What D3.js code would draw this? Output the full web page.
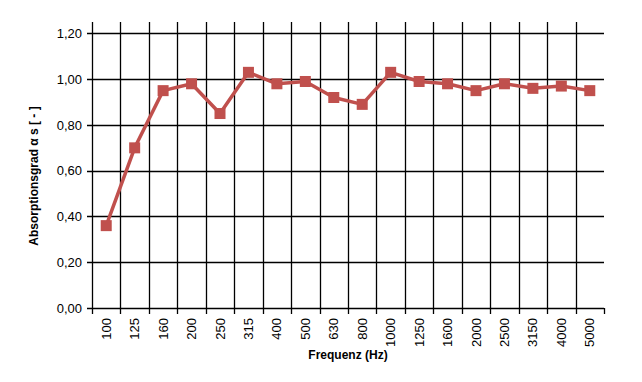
<!DOCTYPE html>
<html>
<head>
<meta charset="utf-8">
<script src="https://cdn.jsdelivr.net/npm/d3@7"></script>
<style>
  body { margin: 0; background: #fff; }
  text { font-family: "Liberation Sans", Arial, sans-serif; fill: #000; }
</style>
</head>
<body>
<svg id="chart" width="642" height="382"></svg>
<script>
let frequencies = ["100", "125", "160", "200", "250", "315", "400", "500", "630", "800",
  "1000", "1250", "1600", "2000", "2500", "3150", "4000", "5000"];
let absorption = [0.36, 0.70, 0.95, 0.98, 0.85, 1.03, 0.98, 0.99, 0.92, 0.89,
  1.03, 0.99, 0.98, 0.95, 0.98, 0.96, 0.97, 0.95];
let yTicks = [0, 0.2, 0.4, 0.6, 0.8, 1.0, 1.2];

let plotLeft = 92, plotRight = 604, plotTop = 22, plotBottom = 308;

let svg = d3.select("#chart");

let x = d3.scaleBand().domain(frequencies).range([plotLeft, plotRight]);
let y = d3.scaleLinear().domain([0, 1.25]).range([plotBottom, plotTop]);

let fmt = (d) => d3.format(".2f")(d).replace(".", ",");

// horizontal grid + y ticks
svg.append("g")
  .selectAll("line")
  .data(yTicks)
  .enter()
  .append("line")
  .attr("x1", plotLeft - 5)
  .attr("x2", plotRight)
  .attr("y1", (d) => Math.round(y(d)) + 0.5)
  .attr("y2", (d) => Math.round(y(d)) + 0.5)
  .attr("stroke", "#000")
  .attr("stroke-width", 1.3);

// vertical grid lines at category boundaries, extending below as ticks
svg.append("g")
  .selectAll("line")
  .data(frequencies)
  .enter()
  .append("line")
  .attr("x1", (d) => Math.round(x(d)) + 0.5)
  .attr("x2", (d) => Math.round(x(d)) + 0.5)
  .attr("y1", plotTop)
  .attr("y2", plotBottom + 6)
  .attr("stroke", "#000")
  .attr("stroke-width", 1.3);

// last tick at right end
svg.append("line")
  .attr("x1", plotRight + 0.5)
  .attr("x2", plotRight + 0.5)
  .attr("y1", Math.round(y(0)))
  .attr("y2", plotBottom + 6)
  .attr("stroke", "#000")
  .attr("stroke-width", 1.3);

// y tick labels
svg.append("g")
  .selectAll("text")
  .data(yTicks)
  .enter()
  .append("text")
  .attr("x", plotLeft - 10)
  .attr("y", (d) => y(d))
  .attr("dy", "0.35em")
  .attr("text-anchor", "end")
  .attr("font-size", 13)
  .text(fmt);

// x tick labels, rotated
svg.append("g")
  .selectAll("text")
  .data(frequencies)
  .enter()
  .append("text")
  .attr("transform", (d) => `translate(${x(d) + x.bandwidth() / 2},${plotBottom + 10}) rotate(-90)`)
  .attr("dy", "0.35em")
  .attr("text-anchor", "end")
  .attr("font-size", 13)
  .text((d) => d);

// series line
let line = d3.line()
  .x((d, i) => x(frequencies[i]) + x.bandwidth() / 2)
  .y((d) => y(d));

svg.append("path")
  .datum(absorption)
  .attr("d", line)
  .attr("fill", "none")
  .attr("stroke", "#C0504D")
  .attr("stroke-width", 3.5)
  .attr("stroke-linejoin", "round");

let ms = 11;
svg.append("g")
  .selectAll("rect")
  .data(absorption)
  .enter()
  .append("rect")
  .attr("x", (d, i) => x(frequencies[i]) + x.bandwidth() / 2 - ms / 2)
  .attr("y", (d) => y(d) - ms / 2)
  .attr("width", ms)
  .attr("height", ms)
  .attr("fill", "#C0504D");

// axis titles
svg.append("text")
  .attr("x", (plotLeft + plotRight) / 2)
  .attr("y", 359)
  .attr("text-anchor", "middle")
  .attr("font-size", 12)
  .attr("font-weight", "bold")
  .text("Frequenz (Hz)");

svg.append("text")
  .attr("transform", "translate(38,176) rotate(-90)")
  .attr("text-anchor", "middle")
  .attr("font-size", 12)
  .attr("font-weight", "bold")
  .text("Absorptionsgrad α s [ - ]");
</script>
</body>
</html>
